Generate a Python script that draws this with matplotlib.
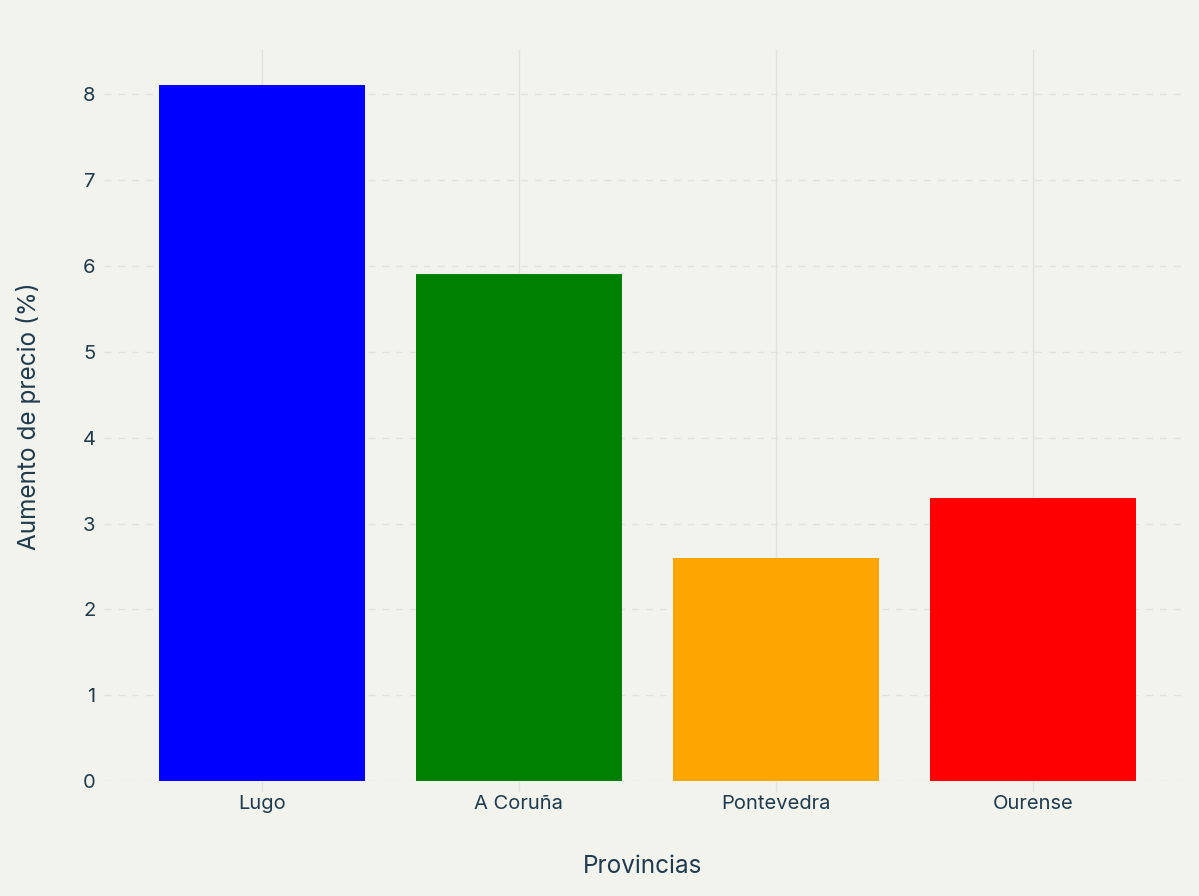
import matplotlib.pyplot as plt

provincias = ["Lugo", "A Coruña", "Pontevedra", "Ourense"]
aumento = [8.1, 5.9, 2.6, 3.3]
colores = ["#0000ff", "#008000", "#ffa500", "#ff0000"]

plt.rcParams['font.family'] = ['Inter', 'DejaVu Sans']
bg = "#f3f3ee"
txt = "#1f3b4d"
grid = "#e2e2dd"

fig = plt.figure(figsize=(11.99, 8.96), dpi=100, facecolor=bg)
ax = fig.add_axes([0.0867, 0.128, 0.899, 0.816], facecolor=bg)

x = range(len(provincias))
ax.bar(x, aumento, width=0.8, color=colores, zorder=3)

ax.set_xlim(-0.615, 3.58)
ax.set_ylim(0, 8.51)
ax.set_xticks(list(x))
ax.set_xticklabels(provincias)
ax.set_yticks(range(0, 9))

ax.grid(axis='x', color=grid, linewidth=1, zorder=0)
ax.grid(axis='y', color=grid, linewidth=1, linestyle=(0, (5, 5)), zorder=0)

for s in ax.spines.values():
    s.set_visible(False)

ax.tick_params(axis='x', colors=grid, length=7, width=1, labelcolor=txt, labelsize=14.5, pad=3)
ax.tick_params(axis='y', length=0, labelcolor=txt, labelsize=14.5, pad=6)

ax.set_xlabel("Provincias", color=txt, fontsize=17.5, labelpad=30)
ax.set_ylabel("Aumento de precio (%)", color=txt, fontsize=17.5, labelpad=30)

fig.savefig("out.png", dpi=100, facecolor=bg)
